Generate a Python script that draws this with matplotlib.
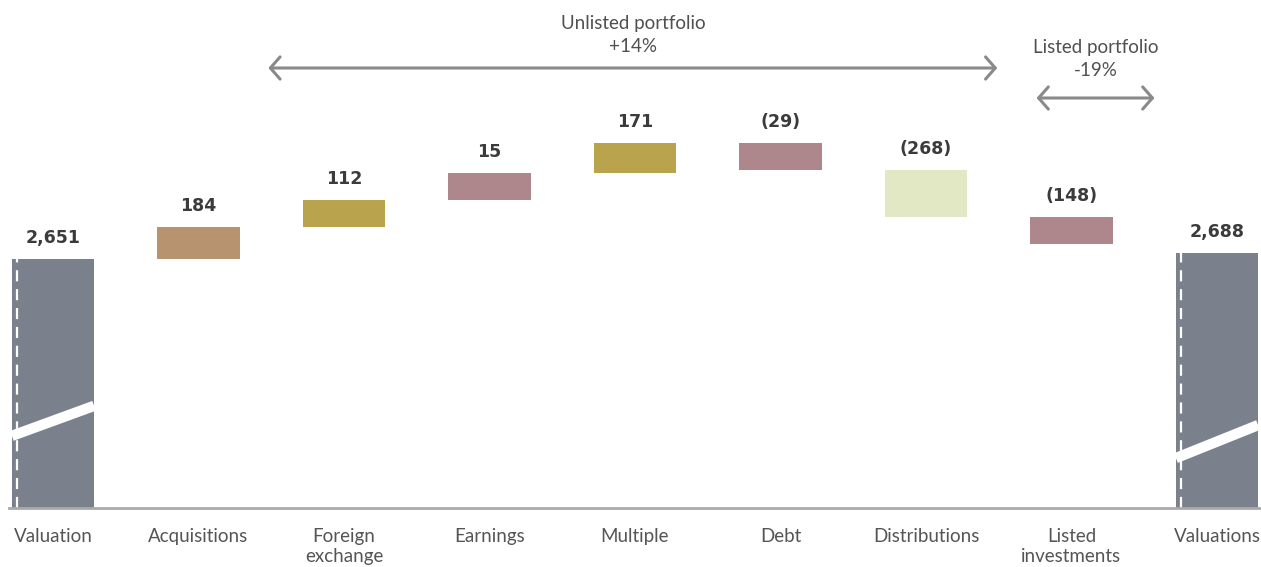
import matplotlib
matplotlib.use("Agg")
import matplotlib.pyplot as plt
import numpy as np

# ---- data ----
categories = ["Valuation", "Acquisitions", "Foreign\nexchange", "Earnings", "Multiple",
              "Debt", "Distributions", "Listed\ninvestments", "Valuations"]
values = [2651, 184, 112, 15, 171, -29, -268, -148, 2688]
is_total = [True, False, False, False, False, False, False, False, True]
value_labels = ["2,651", "184", "112", "15", "171", "(29)", "(268)", "(148)", "2,688"]
bar_colors = ["#7b818c", "#b8936f", "#b9a44d", "#ae878c", "#b9a44d",
              "#ae878c", "#e3e8c4", "#ae878c", "#7b818c"]
ann_texts = ["Unlisted portfolio\n+14%", "Listed portfolio\n-19%"]
ann_x0 = [1.48, 6.76]
ann_x1 = [6.49, 7.57]

# ---- layout constants ----
W, H, DPI = 1261, 567, 100
px_per_unit = 0.175          # vertical scale (pixels per value unit)
min_visual = 155             # minimum drawn height for small movements
base_px = 508                # baseline pixel row
axis_break = 2651 - (base_px - 259) / px_per_unit   # value at the baseline (broken axis)
bar_w = 0.565

plt.rcParams['font.family'] = ['Lato', 'DejaVu Sans']
fig = plt.figure(figsize=(W / DPI, H / DPI), dpi=DPI)
ax = fig.add_axes([0, (H - base_px) / H, 1, base_px / H])
ax.set_xlim(-53 / 145.5, 8 + 44 / 145.5)
ax.set_ylim(axis_break, axis_break + base_px / px_per_unit)
ax.axis("off")

u = 1 / px_per_unit   # value units per pixel
x = np.arange(len(categories))
running = 0.0
for i, (v, tot) in enumerate(zip(values, is_total)):
    if tot:
        bottom, top = axis_break, v
        running = v
    else:
        h = max(abs(v), min_visual) * np.sign(v)
        bottom, top = running, running + h
        running = top
    lo, hi = min(bottom, top), max(bottom, top)
    ax.bar(x[i], hi - lo, bottom=lo, width=bar_w, color=bar_colors[i], zorder=2)
    ax.text(x[i], hi + 21 * u, value_labels[i], ha="center", va="center",
            fontsize=12.5, fontweight="bold", color="#3b3b3b",
            family=["DejaVu Sans"])
    ax.text(x[i], axis_break - 20 * u, categories[i], ha="center", va="top",
            fontsize=13.5, color="#555555", linespacing=1.2, clip_on=False)
    if tot:
        xd = x[i] - bar_w / 2 + 5.5 / 145.5
        ax.plot([xd, xd], [axis_break, hi], color="white", lw=1.6,
                dashes=(5, 3.5), zorder=3)
        frac = 0.35 if i == 0 else 0.26
        yc = axis_break + frac * (hi - axis_break)
        dy = (15 if i == 0 else 16.5) * u
        ax.plot([x[i] - bar_w / 2, x[i] + bar_w / 2], [yc - dy, yc + dy],
                color="white", lw=7.5, solid_capstyle="butt", zorder=4)

# baseline
ax.axhline(axis_break, color="#aaaaaa", lw=2, xmin=0.007, xmax=1, zorder=5, clip_on=False)

# portfolio arrows
arrow_px = [68, 98]
text_gap_px = [13, 19]
for txt, x0, x1, apx, gap in zip(ann_texts, ann_x0, ann_x1, arrow_px, text_gap_px):
    ya = axis_break + (base_px - apx) * u
    ax.annotate("", xy=(x0, ya), xytext=(x1, ya),
                arrowprops=dict(arrowstyle="<->,head_length=0.35,head_width=0.4",
                                color="#8a8a8a", lw=2.2, mutation_scale=20,
                                shrinkA=0, shrinkB=0))
    ax.text((x0 + x1) / 2, ya + gap * u, txt, ha="center", va="bottom",
            fontsize=13.5, color="#505050", linespacing=1.45)

fig.savefig("out.png", dpi=DPI)
